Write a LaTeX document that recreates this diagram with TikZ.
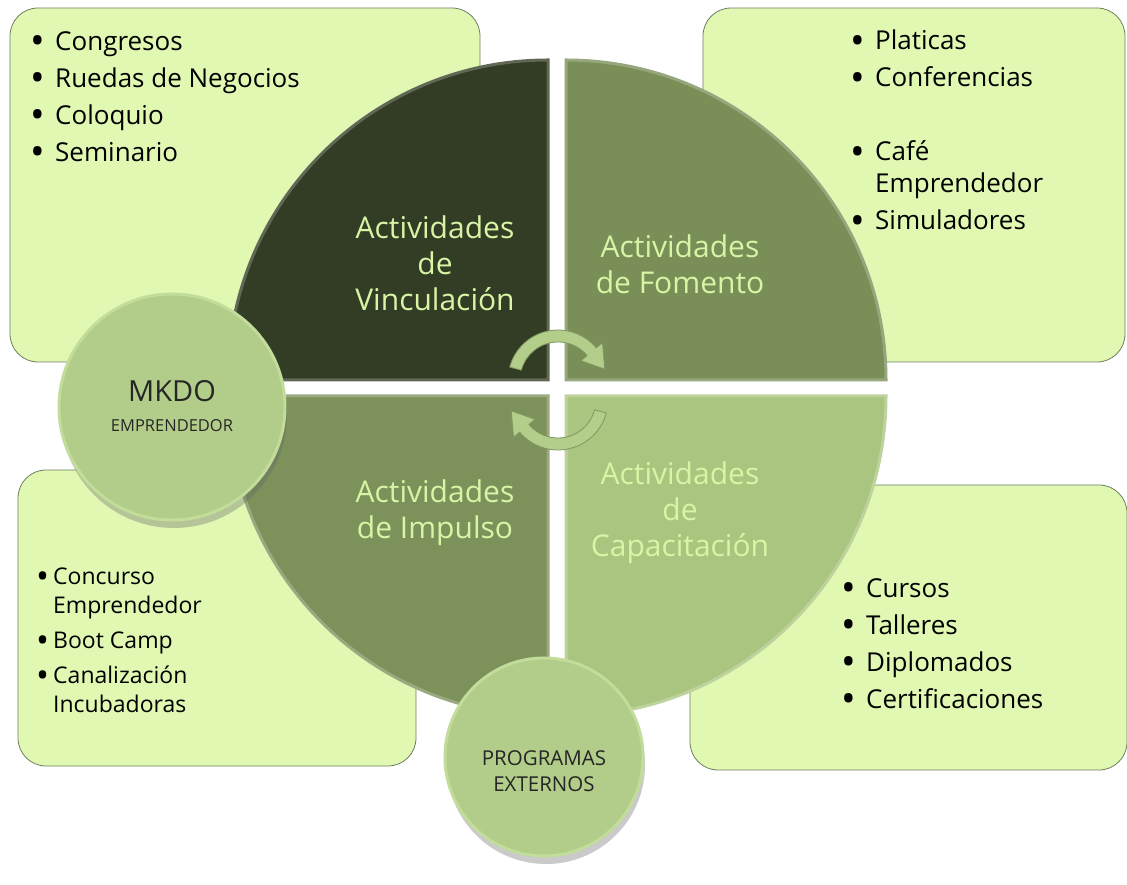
\documentclass[tikz,border=0pt]{standalone}
\usepackage{fontspec}
\usepackage{graphicx}
\setmainfont{Open Sans}
\usetikzlibrary{shadows}

\definecolor{boxfill}{HTML}{E1F8B3}
\definecolor{boxline}{HTML}{6F7F5E}
\definecolor{vinc}{HTML}{333D25}
\definecolor{fome}{HTML}{7A8E58}
\definecolor{impu}{HTML}{7D915B}
\definecolor{capa}{HTML}{AAC580}
\definecolor{quadtxt}{HTML}{D7F5A5}
\definecolor{hubfill}{HTML}{B2CD89}
\definecolor{hubrim}{HTML}{C2DC9A}
\definecolor{turnfill}{HTML}{B3CE8B}
\definecolor{turnline}{HTML}{7F9660}

% bullet with a fixed gap before the item text
\newcommand{\lbul}[1][25pt]{\makebox[#1][l]{\raisebox{-0.17em}{\scalebox{1.5}{•}}}}
\newcommand{\lgap}[1][25pt]{\hspace*{#1}}

\tikzset{
  listbox/.style={draw=boxline, fill=boxfill, rounded corners=28pt, line width=0.8pt},
  listtext/.style={anchor=north west, align=left, inner sep=0pt, text=black},
  quadrant/.style={fill=#1, draw=#1!78!white, line width=3pt},
  quadtext/.style={text=quadtxt, align=center, inner sep=0pt, font=\fontsize{30}{36}\selectfont},
  hub/.style={circle, fill=hubfill, draw=hubrim, line width=3pt, inner sep=0pt,
    drop shadow={shadow xshift=2pt, shadow yshift=-8pt, opacity=0.35, fill=black!60}},
  hubtext/.style={align=center, inner sep=0pt, text=black!85},
  turn/.style={fill=turnfill, draw=turnline, line width=0.8pt, line join=round}
}

\begin{document}
\begin{tikzpicture}[x=1pt, y=1pt]
  \useasboundingbox (0,0) rectangle (1127,884);

  % list boxes
  \draw[listbox] (10,876) rectangle (480,522);
  \draw[listbox] (703,876) rectangle (1125,522);
  \draw[listbox] (18,414) rectangle (416,118);
  \draw[listbox] (690,399) rectangle (1127,114);

  % the four quarters
  \draw[quadrant=vinc] (548,504) -- (228,504) arc[start angle=180, end angle=90, radius=320] -- cycle;
  \draw[quadrant=fome] (566,504) -- (566,824) arc[start angle=90, end angle=0, radius=320] -- cycle;
  \draw[quadrant=impu] (548,488) -- (228,488) arc[start angle=180, end angle=270, radius=320] -- cycle;
  \draw[quadrant=capa] (566,488) -- (886,488) arc[start angle=0, end angle=-90, radius=320] -- cycle;

  \node[quadtext] (vinculacion) at (435,621) {Actividades\\de\\Vinculación};
  \node[quadtext] (fomento) at (680,620) {Actividades\\de Fomento};
  \node[quadtext] (impulso) at (435,371) {Actividades\\de Impulso};
  \node[quadtext] (capacitacion) at (680,371) {Actividades\\de\\Capacitación};

  % turning arrows in the middle
  \begin{scope}[shift={(558,504)}]
    \draw[turn] (165:50) arc[start angle=165, end angle=40, radius=50] -- (40:58) -- (13:48)
      -- (40:30) -- (40:38) arc[start angle=40, end angle=165, radius=38] -- cycle;
  \end{scope}
  \begin{scope}[shift={(558,484)}, rotate=180]
    \draw[turn] (165:50) arc[start angle=165, end angle=40, radius=50] -- (40:58) -- (13:48)
      -- (40:30) -- (40:38) arc[start angle=40, end angle=165, radius=38] -- cycle;
  \end{scope}

  % circles
  \node[hub, minimum size=226pt] (mkdo) at (172,477) {};
  \node[hubtext, font=\fontsize{29}{30}\selectfont] (mkdolabel) at (172,478)
    {MKDO\\{\fontsize{16.5}{18}\selectfont EMPRENDEDOR}};
  \node[hub, minimum size=198pt] (externos) at (544,127) {};
  \node[hubtext, font=\fontsize{20.5}{26}\selectfont] (externoslabel) at (544,113)
    {PROGRAMAS\\EXTERNOS};

  % lists
  \node[listtext, font=\fontsize{26}{37}\selectfont] (vinlist) at (30,853)
    {\lbul Congresos\\\lbul Ruedas de Negocios\\\lbul Coloquio\\\lbul Seminario};
  \node[listtext, font=\fontsize{26}{37}\selectfont] (fomlist) at (850,854)
    {\lbul Platicas\\\lbul Conferencias\\[37pt]\lbul Café\\[-5pt]\lgap Emprendedor\\\lbul Simuladores};
  \node[listtext, font=\fontsize{23}{35}\selectfont] (implist) at (36,316)
    {\lbul[17pt]Concurso\\[-6pt]\lgap[17pt]Emprendedor\\\lbul[17pt]Boot Camp\\\lbul[17pt]Canalización\\[-6pt]\lgap[17pt]Incubadoras};
  \node[listtext, font=\fontsize{26}{37}\selectfont] (caplist) at (841,306)
    {\lbul Cursos\\\lbul Talleres\\\lbul Diplomados\\\lbul Certificaciones};
\end{tikzpicture}
\end{document}
